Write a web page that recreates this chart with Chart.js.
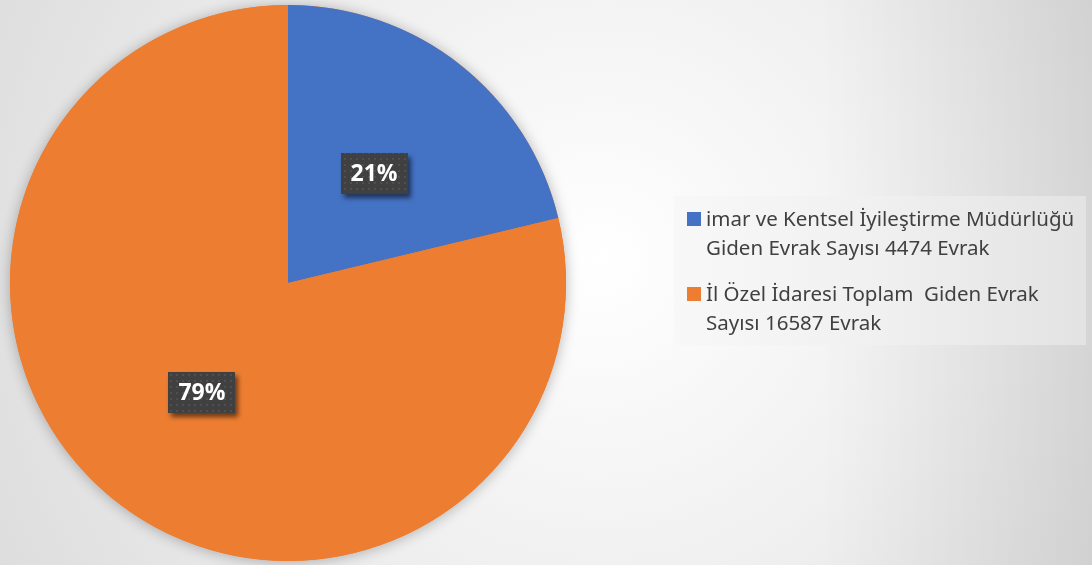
<!DOCTYPE html>
<html lang="tr">
<head>
<meta charset="UTF-8">
<title>Giden Evrak Sayısı</title>
<script src="https://cdn.jsdelivr.net/npm/chart.js"></script>
<style>
  html, body { margin: 0; padding: 0; }
  body {
    width: 1092px; height: 565px; overflow: hidden;
    background:
      linear-gradient(to right, rgba(0,0,0,0) 0px, rgba(0,0,0,0) 820px, rgba(0,0,0,0.08) 1092px),
      radial-gradient(circle at 600px 260px, #ffffff 0px, #f0f0f0 330px, #e0e0e0 620px, #d8d8d8 800px);
  }
</style>
</head>
<body>
<canvas id="pie" width="1092" height="565"></canvas>
<script>
// categories (legend text, one array of lines per slice)
const labels = [
  ['imar ve Kentsel İyileştirme Müdürlüğü', 'Giden Evrak Sayısı 4474 Evrak'],
  ['İl Özel İdaresi Toplam  Giden Evrak', 'Sayısı 16587 Evrak']
];
const values = [4474, 16587];
const colors = ['#4472C4', '#ED7D31'];

const total = values.reduce((a, b) => a + b, 0);

// soft shadow under the whole pie
const pieShadow = {
  id: 'pieShadow',
  beforeDatasetsDraw(chart) {
    const arc = chart.getDatasetMeta(0).data[0];
    if (!arc) return;
    const ctx = chart.ctx;
    ctx.save();
    ctx.shadowColor = 'rgba(0,0,0,0.28)';
    ctx.shadowBlur = 14;
    ctx.shadowOffsetX = 0;
    ctx.shadowOffsetY = 1;
    ctx.fillStyle = colors[1];
    ctx.beginPath();
    ctx.arc(arc.x, arc.y, arc.outerRadius, 0, Math.PI * 2);
    ctx.fill();
    ctx.restore();
  }
};

// dotted dark pattern for the percent boxes
function dotPattern(ctx) {
  const c = document.createElement('canvas');
  c.width = 6; c.height = 6;
  const p = c.getContext('2d');
  p.fillStyle = '#404040';
  p.fillRect(0, 0, 6, 6);
  p.fillStyle = '#4f4f4f';
  p.fillRect(2, 2, 2, 2);
  return ctx.createPattern(c, 'repeat');
}

const percentBoxes = {
  id: 'percentBoxes',
  afterDatasetsDraw(chart) {
    const ctx = chart.ctx;
    const pattern = dotPattern(ctx);
    chart.getDatasetMeta(0).data.forEach((arc, i) => {
      const pos = arc.tooltipPosition();
      const w = 67, h = 41;
      const x = Math.round(pos.x - w / 2), y = Math.round(pos.y - h / 2);
      ctx.save();
      ctx.shadowColor = 'rgba(0,0,0,0.55)';
      ctx.shadowBlur = 5;
      ctx.shadowOffsetX = 3;
      ctx.shadowOffsetY = 4;
      ctx.fillStyle = pattern;
      ctx.fillRect(x, y, w, h);
      ctx.restore();
      ctx.save();
      ctx.fillStyle = '#ffffff';
      ctx.font = 'bold 23px "Open Sans"';
      ctx.textAlign = 'center';
      ctx.textBaseline = 'middle';
      const txt = Math.round(values[i] / total * 100) + '%';
      ctx.fillText(txt, pos.x, pos.y + 1);
      ctx.restore();
    });
  }
};

// legend drawn at the right in its own light box
const sideLegend = {
  id: 'sideLegend',
  afterDraw(chart) {
    const ctx = chart.ctx;
    const bx = 674, by = 196, bw = 412, bh = 149;
    ctx.save();
    const g = ctx.createLinearGradient(bx, 0, bx + bw, 0);
    g.addColorStop(0, '#f8f8f8');
    g.addColorStop(0.5, '#f0f0f0');
    g.addColorStop(1, '#e3e3e3');
    ctx.fillStyle = g;
    ctx.fillRect(bx, by, bw, bh);

    ctx.font = '20.5px "Noto Sans"';
    ctx.textBaseline = 'alphabetic';
    ctx.textAlign = 'left';
    const itemTop = [212, 287];
    labels.forEach((lines, i) => {
      const top = itemTop[i];
      ctx.fillStyle = colors[i];
      ctx.fillRect(687, top, 14, 14);
      ctx.fillStyle = '#404040';
      lines.forEach((line, j) => {
        ctx.fillText(line, 706, top + 14 + j * 29);
      });
    });
    ctx.restore();
  }
};

new Chart(document.getElementById('pie'), {
  type: 'pie',
  data: {
    labels: labels,
    datasets: [{
      data: values,
      backgroundColor: colors,
      borderWidth: 0
    }]
  },
  options: {
    responsive: false,
    animation: false,
    layout: { padding: { left: 10, top: 5, right: 526, bottom: 4 } },
    plugins: {
      legend: { display: false },
      tooltip: { enabled: false }
    }
  },
  plugins: [pieShadow, percentBoxes, sideLegend]
});
</script>
</body>
</html>
